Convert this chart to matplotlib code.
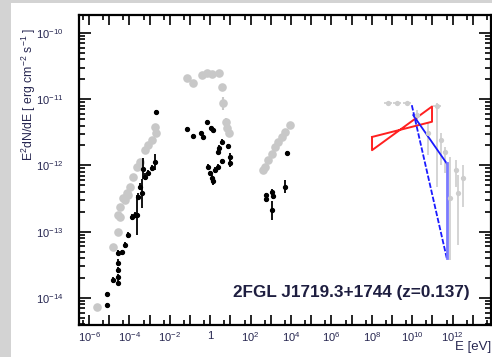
import numpy as np
import matplotlib.pyplot as plt
from matplotlib.patches import Rectangle
from matplotlib.ticker import FixedLocator, FuncFormatter, LogLocator, NullFormatter

plt.rcParams['font.family'] = ['Liberation Sans', 'DejaVu Sans']
plt.rcParams['mathtext.fontset'] = 'custom'
plt.rcParams['mathtext.rm'] = 'Liberation Sans'
plt.rcParams['mathtext.it'] = 'Liberation Sans:italic'
plt.rcParams['mathtext.bf'] = 'Liberation Sans:bold'

# all values are log10(E / eV) and log10(E^2 dN/dE / erg cm^-2 s^-1)

# archival data (grey)
arch_low_x = [-5.62, -4.81, -4.56, -4.56, -4.47, -4.47, -4.32, -4.22, -4.13, -4.05, -3.97,
              -3.82, -3.64, -3.48, -3.23, -3.08, -2.90, -2.68, -2.73]
arch_low_y = [-14.14, -13.23, -13.00, -12.75, -12.78, -12.63, -12.49, -12.52, -12.42, -12.45,
              -12.32, -12.17, -12.02, -11.95, -11.77, -11.69, -11.62, -11.51, -11.42]

arch_opt_x = [-1.16, -0.84, -0.42, -0.17, 0.07, 0.45, 0.57, 0.65, 0.78, 0.85, 0.95]
arch_opt_y = [-10.68, -10.75, -10.63, -10.61, -10.62, -10.61, -10.81, -11.06, -11.34, -11.44, -11.51]
arch_opt_err = [0.0, 0.0, 0.0, 0.0, 0.0, 0.0, 0.0, 0.10, 0.05, 0.0, 0.0]

arch_xray_x = [2.63, 2.71, 2.88, 3.04, 3.21, 3.37, 3.54, 3.70, 3.95]
arch_xray_y = [-12.07, -12.02, -11.92, -11.82, -11.72, -11.64, -11.57, -11.49, -11.39]

arch_gam_x = [8.82, 9.23, 9.73, 10.22, 10.80, 11.21, 11.41, 11.62, 11.87, 12.17, 12.28, 12.50]
arch_gam_y = [-11.05, -11.05, -11.05, -11.24, -11.51, -11.10, -11.62, -11.79, -12.49, -12.07, -12.42, -12.19]
arch_gam_lo = [-11.05, -11.05, -11.05, -11.36, -11.84, -12.32, -11.99, -12.11, -13.43, -12.32, -13.20, -12.63]
arch_gam_hi = [-11.05, -11.05, -11.05, -11.16, -11.36, -11.06, -11.51, -11.72, -11.87, -11.92, -12.14, -11.99]
arch_gam_xerr = [0.2, 0.2, 0.2, 0.08, 0.08, 0.2, 0.08, 0.08, 0.08, 0.08, 0.08, 0.08]

# simultaneous data (black)
sim_low_x = [-5.10, -5.12, -4.80, -4.55, -4.55, -4.55, -4.55, -4.55, -4.38, -4.22, -4.05,
             -3.89, -3.72, -3.64, -3.57, -3.48, -3.39, -3.31, -3.23, -3.08, -2.90, -2.73, -2.68]
sim_low_y = [-14.11, -13.94, -13.73, -13.77, -13.68, -13.58, -13.47, -13.32, -13.31, -13.20, -13.05,
             -12.78, -12.75, -12.75, -12.47, -12.32, -12.42, -12.05, -12.17, -12.11, -12.04, -11.95, -11.19]
sim_low_err = [0.03, 0.03, 0.04, 0.04, 0.04, 0.04, 0.05, 0.04, 0.04, 0.04, 0.04,
               0.05, 0.05, 0.30, 0.05, 0.05, 0.22, 0.16, 0.05, 0.04, 0.04, 0.12, 0.03]

sim_opt_x = [-1.16, -0.87, -0.47, -0.37, -0.14, 0.02, 0.15, 0.57, 0.45, 0.40, 0.90, 0.98, 0.98,
             0.57, 0.40, 0.24, -0.09, 0.00, 0.07, 0.12]
sim_opt_y = [-11.45, -11.55, -11.51, -11.57, -11.35, -11.44, -11.47, -11.64, -11.73, -11.79, -11.71,
             -11.87, -11.97, -11.94, -12.02, -12.07, -12.02, -12.12, -12.19, -12.24]
sim_opt_err = [0.03, 0.03, 0.03, 0.03, 0.03, 0.03, 0.03, 0.04, 0.04, 0.04, 0.04, 0.06, 0.06,
               0.04, 0.04, 0.04, 0.04, 0.04, 0.05, 0.05]

sim_xray_x = [3.79, 3.70, 3.04, 3.09, 2.76, 2.76, 3.04]
sim_xray_y = [-11.81, -12.32, -12.40, -12.46, -12.45, -12.51, -12.68]
sim_xray_err = [0.03, 0.10, 0.05, 0.05, 0.04, 0.04, 0.14]

# Fermi-LAT butterfly (two power laws bounding the fit)
fermi_e = [8.01, 10.98]
fermi_soft = [-11.57, -11.34]
fermi_hard = [-11.77, -11.11]

# TeV limits (blue)
tev_e = [9.98, 11.71]
tev_low = [-11.09, -13.40]
tev_e2 = [10.05, 11.71]
tev_high = [-11.24, -11.97]

label_color = '#262650'


def lin(v):
    return 10.0 ** np.asarray(v, dtype=float)


def yerr_sym(y, e):
    y = np.asarray(y, dtype=float)
    e = np.asarray(e, dtype=float)
    return [lin(y) - lin(y - e), lin(y + e) - lin(y)]


fig = plt.figure(figsize=(4.92, 3.57), dpi=100, facecolor='#d3d3d3')
fig.patches.append(Rectangle((11 / 492, 0), 1, 354 / 357, transform=fig.transFigure,
                             facecolor='white', edgecolor='none', zorder=-10))
ax = fig.add_axes([79 / 492, 32 / 357, 412 / 492, 310 / 357])
ax.set_xscale('log')
ax.set_yscale('log')
ax.patch.set_alpha(0)

grey = '#c8c8c8'
ax.plot(lin(arch_low_x), lin(arch_low_y), 'o', color=grey, ms=6.2, mec='none')
ax.errorbar(lin(arch_opt_x), lin(arch_opt_y), yerr=yerr_sym(arch_opt_y, arch_opt_err),
            fmt='o', color=grey, ms=6.2, mec='none', elinewidth=1.5, capsize=0)
ax.plot(lin(arch_xray_x), lin(arch_xray_y), 'o', color=grey, ms=6.2, mec='none')

gy = np.asarray(arch_gam_y)
gx = np.asarray(arch_gam_x)
gxe = np.asarray(arch_gam_xerr)
ax.errorbar(lin(gx), lin(gy),
            yerr=[lin(gy) - lin(arch_gam_lo), lin(arch_gam_hi) - lin(gy)],
            xerr=[lin(gx) - lin(gx - gxe), lin(gx + gxe) - lin(gx)],
            fmt='o', color='#cdcdcd', ms=3.8, mec='none', elinewidth=1.2, capsize=0)

ax.errorbar(lin(sim_low_x), lin(sim_low_y), yerr=yerr_sym(sim_low_y, sim_low_err),
            fmt='o', color='black', ms=2.8, elinewidth=1.3, capsize=0)
ax.errorbar(lin(sim_opt_x), lin(sim_opt_y), yerr=yerr_sym(sim_opt_y, sim_opt_err),
            fmt='o', color='black', ms=2.8, elinewidth=1.3, capsize=0)
ax.errorbar(lin(sim_xray_x), lin(sim_xray_y), yerr=yerr_sym(sim_xray_y, sim_xray_err),
            fmt='o', color='black', ms=2.8, elinewidth=1.3, capsize=0)

# butterfly: soft line left->right, right edge, hard line right->left, left edge
bx = lin([fermi_e[0], fermi_e[1], fermi_e[1], fermi_e[0], fermi_e[0]])
by = lin([fermi_soft[0], fermi_soft[1], fermi_hard[1], fermi_hard[0], fermi_soft[0]])
ax.plot(bx, by, color='#ff2020', lw=1.4)

ax.plot(lin(tev_e), lin(tev_low), color='#1a1aff', lw=1.3, dashes=(3, 1))
ax.plot(lin(tev_e2), lin(tev_high), color='#1a1aff', lw=1.3)
ax.plot(lin([tev_e[1], tev_e[1]]), lin([tev_high[1], tev_low[1]]), color='#7a7aff', lw=2)

ax.set_xlim(10 ** -6.495, 10 ** 13.90)
ax.set_ylim(10 ** -14.41, 10 ** -9.728)

decades = np.arange(-6, 14)


def xlab(v, pos):
    n = int(round(np.log10(v)))
    if n % 2:
        return ''
    if n == 0:
        return '1'
    return r'$10^{%d}$' % n


ax.xaxis.set_major_locator(FixedLocator(10.0 ** decades))
ax.xaxis.set_major_formatter(FuncFormatter(xlab))
ax.xaxis.set_minor_locator(LogLocator(base=10, subs=(5,), numticks=60))
ax.xaxis.set_minor_formatter(NullFormatter())
ax.yaxis.set_major_locator(FixedLocator(10.0 ** np.arange(-14, -9)))
ax.yaxis.set_major_formatter(FuncFormatter(lambda v, p: r'$10^{%d}$' % int(round(np.log10(v)))))
ax.yaxis.set_minor_locator(LogLocator(base=10, subs=np.arange(2, 10), numticks=30))
ax.yaxis.set_minor_formatter(NullFormatter())

ax.tick_params(which='both', direction='in', top=True, right=True, width=1.2,
               labelsize=8, labelcolor=label_color)
ax.tick_params(axis='x', which='major', length=7, pad=4)
ax.tick_params(axis='x', which='minor', length=3.5)
ax.tick_params(axis='y', which='major', length=8.5, pad=11)
ax.tick_params(axis='y', which='minor', length=4.3)
for s in ax.spines.values():
    s.set_linewidth(1.6)

ax.text(0.949, 0.106, '2FGL J1719.3+1744 (z=0.137)', transform=ax.transAxes,
        ha='right', va='center', fontsize=12.3, fontweight='bold', color='#1e1e40')
fig.text(29 / 492, 1 - 94 / 357, r'E$^{2}$dN/dE [ erg cm$^{-2}$ s$^{-1}$ ]',
         rotation=90, ha='center', va='center', fontsize=8.8, color=label_color)
fig.text(0.998, 1 - 347 / 357, 'E [eV]', ha='right', va='center', fontsize=9.5,
         color=label_color)

fig.savefig('out.png', dpi=100, facecolor=fig.get_facecolor())
